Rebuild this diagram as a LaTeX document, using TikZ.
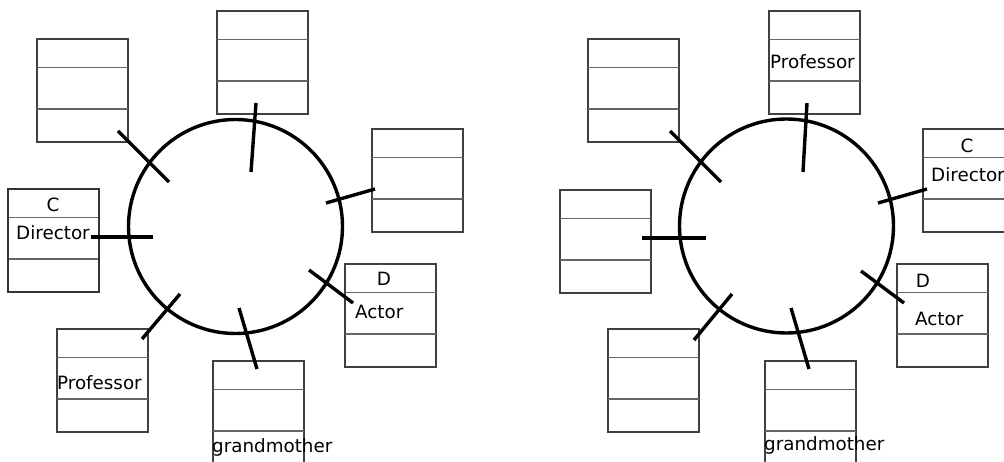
\documentclass[tikz,border=0pt]{standalone}
\usepackage{fontspec}
\setmainfont{DejaVu Sans}
\tikzset{
  classbox/.style={draw=black!75, line width=1.5pt, rectangle, anchor=north west,
    minimum width=91pt, minimum height=103pt, inner sep=0pt, outer sep=0pt},
  divider/.style={draw=black!60, line width=1.1pt},
  ring/.style={draw=black, line width=3.4pt, circle, minimum size=214pt, inner sep=0pt},
  tick/.style={draw=black, line width=3.4pt},
  lbl/.style={inner sep=0pt, font=\fontsize{18.3}{22}\selectfont}
}
\begin{document}
\begin{tikzpicture}[x=1pt,y=-1pt]
\useasboundingbox (0,0) rectangle (1004,462);

            % the two rings
            \node[ring] (lring) at (235.5,226.5) {};
            \node[ring] (rring) at (786.5,226) {};

            % class boxes, three rows each
            \foreach \n/\x/\y in {l1/37/39, l2/217/11, l3/372/129, l4/345/264, l5/213/361, l6/57/329, l7/8/189,
                                  r1/588/39, r2/769/11, r3/923/129, r4/897/264, r5/765/361, r6/560/190, r7/608/329}{
              \node[classbox] (\n) at (\x,\y) {};
              \draw[divider] (\n.north west) ++(0,28.5) -- ++(91,0);
              \draw[divider] (\n.north west) ++(0,70) -- ++(91,0);
            }
            \draw[line width=2.4pt, black!80] (l7.north west) rectangle (l7.south east);

            % left labels
            \node[lbl, anchor=base] (l7c) at (53,212) {C};
            \node[lbl, anchor=base west] (l7t) at (16,240) {Director};
            \node[lbl, anchor=base] (l4d) at (384,286) {D};
            \node[lbl, anchor=base west] (l4t) at (355,319) {Actor};
            \node[lbl, anchor=base west] (l6t) at (57,389) {Professor};
            \node[lbl, anchor=base west] (l5t) at (212,452) {grandmother};
            % right labels
            \node[lbl, anchor=base west] (r2t) at (770,69) {Professor};
            \node[lbl, anchor=base] (r3c) at (967,153) {C};
            \node[lbl, anchor=base west] (r3t) at (931,182) {Director};
            \node[lbl, anchor=base] (r4d) at (923,288) {D};
            \node[lbl, anchor=base west] (r4t) at (915,326) {Actor};
            \node[lbl, anchor=base west] (r5t) at (764,450) {grandmother};

            % links across the rings
            \foreach \n/\ax/\ay/\bx/\by in {la/118/131/169/182, lb/256/103/251/172, lc/326/203/375/189,
                                            ld/309/270/353/303, le/239/308/257/369, lf/180/294/142/339, lg/91/237/153/237,
                                            ra/670/131/721/182, rb/807/103/803/172, rc/878/203/927/189,
                                            rd/861/271/904/303, re/791/308/809/369, rf/732/294/694/340, rg/642/238/706/238}{
              \coordinate (\n1) at (\ax,\ay);
              \coordinate (\n2) at (\bx,\by);
              \draw[tick] (\n1) -- (\n2);
            }
\end{tikzpicture}
\end{document}
